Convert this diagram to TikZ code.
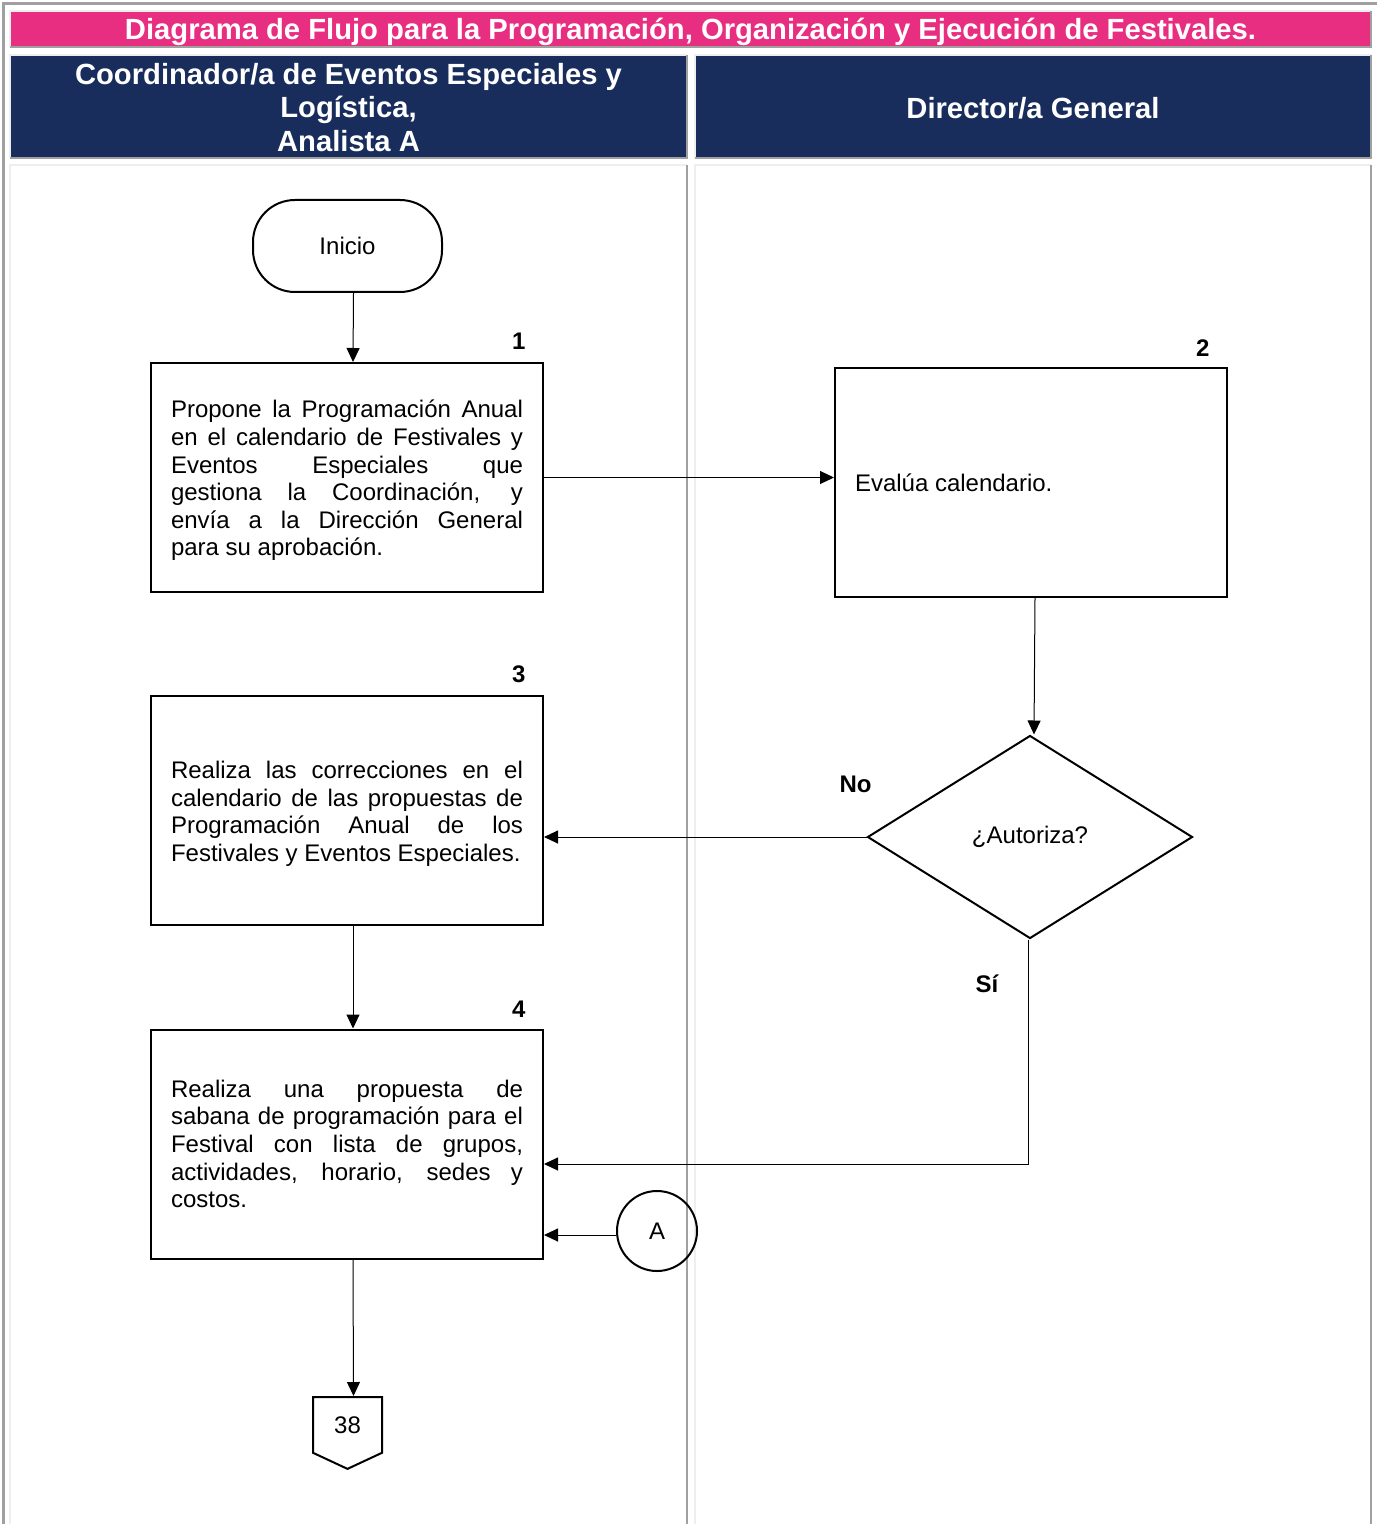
\documentclass[tikz,border=0pt]{standalone}
\usepackage{fontspec}
\setmainfont{Liberation Sans}
\usepackage{tikz}
\usetikzlibrary{arrows.meta, shapes}
\definecolor{rosa}{HTML}{E82E80}
\definecolor{marino}{HTML}{192D5C}
\definecolor{bordeosc}{HTML}{A0A0A0}
\definecolor{bordecla}{HTML}{EEEEEE}
\tolerance=10000
\hbadness=10000

\begin{document}
\begin{tikzpicture}[x=0.5pt,y=-0.5pt,>={Triangle[length=7pt,width=6.5pt]},
                    line width=0.5pt]
  \tikzstyle{proceso}=[draw,line width=1pt,minimum width=196pt,minimum height=114.5pt,
                       text width=176pt,align=justify,inner xsep=10pt,
                       font=\fontsize{12}{13.8}\selectfont]
  \tikzstyle{bajar}=[execute at begin node={\rule{0pt}{11.8pt}}]
  \tikzstyle{inicio}=[draw,line width=1pt,rectangle,rounded corners=21pt,
                      minimum width=94.5pt,minimum height=46pt,font=\fontsize{12}{13.8}\selectfont]
  \tikzstyle{decision}=[draw,line width=1pt,diamond,minimum width=162.5pt,
                        minimum height=101.5pt,inner sep=0pt,font=\fontsize{12}{13.8}\selectfont]
  \tikzstyle{conector}=[draw,line width=1pt,circle,minimum size=40pt,inner sep=0pt,
                        font=\fontsize{12}{13.8}\selectfont]
  \tikzstyle{pagina}=[draw,line width=1pt,signal,signal to=south,signal pointer angle=130,
                      minimum width=34.5pt,minimum height=31pt,inner sep=0pt,
                      font=\fontsize{12}{13.8}\selectfont]
  \tikzstyle{num}=[anchor=south east,inner sep=0pt,font=\fontsize{12}{13.8}\selectfont\bfseries]
  \tikzstyle{etiq}=[inner sep=0pt,font=\fontsize{12}{13.8}\selectfont\bfseries]
  \tikzstyle{carril}=[text=white,align=center,font=\fontsize{14.6}{16.75}\selectfont\bfseries]

  \useasboundingbox (0,0) rectangle (1377,1524);

  % tabla de carriles
  \fill[rosa] (11,12) rectangle (1370,46);
  \fill[marino] (11,56) rectangle (686,157);
  \fill[marino] (696,56) rectangle (1370,157);
  \draw[line width=1.5pt,bordeosc] (3.5,1540) -- (3.5,3.5) -- (1377,3.5);
  \foreach \xa/\ya/\xb/\yb in {10/11/1371/47, 10/55/687/158, 695/55/1371/158,
                               10/165/687/1540, 695/165/1371/1540}
    {\draw[line width=1pt,bordecla] (\xa,\yb) |- (\xb,\ya);
     \draw[line width=1pt,bordeosc] (\xa,\yb) -| (\xb,\ya);}

  \node[carril] (tit) at (690.5,32) {Diagrama de Flujo para la Programación, Organización y Ejecución de Festivales.};
  \node[carril] (carrilA) at (348.5,107.5) {Coordinador/a de Eventos Especiales y\\Logística,\\Analista A};
  \node[carril] (carrilB) at (1033,108) {Director/a General};

  % actividades
  \node[inicio] (ini) at (347.5,246) {Inicio};
  \node[proceso,bajar] (b1) at (347,477.5) {Propone la Programación Anual\linebreak
    en el calendario de Festivales y\linebreak Eventos Especiales que\linebreak
    gestiona la Coordinación, y\linebreak envía a la Dirección General\linebreak
    para su aprobación.};
  \node[proceso] (b2) at (1031,482.5) {Evalúa calendario.};
  \node[decision] (dec) at (1030,837) {¿Autoriza?};
  \node[proceso,bajar] (b3) at (347,810.5) {Realiza las correcciones en el\linebreak
    calendario de las propuestas de\linebreak Programación Anual de los\linebreak
    Festivales y Eventos Especiales.};
  \node[proceso] (b4) at (347,1144) {Realiza una propuesta de\linebreak
    sabana de programación para el\linebreak Festival con lista de grupos,\linebreak
    actividades, horario, sedes y\linebreak costos.};
  \node[conector] (conA) at (657,1231) {A};
  \node[pagina,anchor=north] (p38) at (347.5,1396) {38};

  \node[num] at ([xshift=-9pt,yshift=6pt]b1.north east) {1};
  \node[num] at ([xshift=-9pt,yshift=5pt]b2.north east) {2};
  \node[num] at ([xshift=-9pt,yshift=6pt]b3.north east) {3};
  \node[num] at ([xshift=-9pt,yshift=5.5pt]b4.north east) {4};
  \node[etiq] at ([xshift=-5.5pt,yshift=26.5pt]dec.west) {No};
  \node[etiq] at ([xshift=-21.5pt,yshift=-22pt]dec.south) {Sí};

  \path[->] ([xshift=3pt]ini.south) edge ([xshift=3pt]b1.north)
        (b1.east) edge (b1.east -| b2.west)
        ([xshift=2pt]b2.south) edge ([xshift=2pt]dec.north)
        (dec.west) edge (dec.west -| b3.east)
        ([xshift=3pt]b3.south) edge ([xshift=3pt]b4.north)
        ([yshift=-2pt]conA.west) edge ([yshift=-2pt]conA.west -| b4.east)
        ([xshift=3pt]b4.south) edge ([xshift=3pt]p38.north);
  \draw[->] ([xshift=-1pt]dec.south) |- ([yshift=-10pt]b4.east);
\end{tikzpicture}
\end{document}
